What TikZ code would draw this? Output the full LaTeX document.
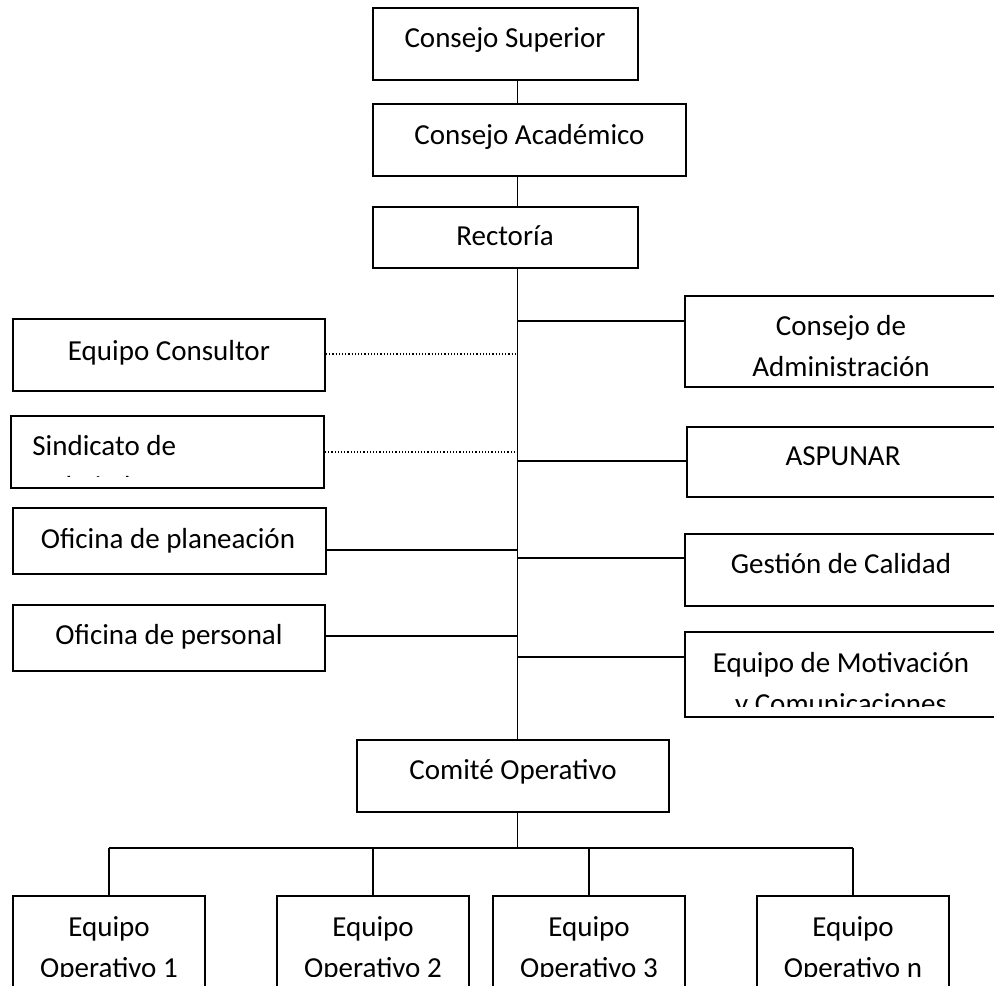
\documentclass[tikz,border=0pt]{standalone}
\usepackage{fontspec}
\setmainfont{Carlito}
\usetikzlibrary{fit}

\tikzset{
  orgbox/.style={draw,line width=0.95pt,inner sep=0pt},
  lbl/.style={anchor=base,inner sep=0pt,align=center,font=\fontsize{14.5}{20.5}\selectfont},
  link/.style={line width=0.95pt},
  dotlink/.style={line width=0.6pt,densely dotted}
}

\begin{document}
\begin{tikzpicture}[x=0.5pt,y=-0.5pt]
  \useasboundingbox (0,0) rectangle (994,985);
  \clip (0,0) rectangle (994,985);
  % central column
  \node[orgbox,fit={(373,8)(638,80)}] (sup) {};
  \node[lbl] (supT) at (505,47) {Consejo Superior};
  \node[orgbox,fit={(373,104)(686,176)}] (acad) {};
  \node[lbl] (acadT) at (529.5,144) {Consejo Académico};
  \node[orgbox,fit={(373,207)(638,268)}] (rect) {};
  \node[lbl] (rectT) at (505,245) {Rectoría};
  \node[orgbox,fit={(357,740)(669,812)}] (com) {};
  \node[lbl] (comT) at (513,779) {Comité Operativo};

  % left side
  \node[orgbox,fit={(13,319)(325,391)}] (consul) {};
  \node[lbl] (consulT) at (169,360) {Equipo Consultor};
  \node[orgbox,fit={(11,416)(324,488)}] (sind) {};
  \begin{scope}
    \clip (11,416) rectangle (324,476);
    \node[lbl,anchor=base west,align=left] (sindT) at (32,496) {Sindicato de\\trabajadores};
  \end{scope}
  \node[orgbox,fit={(13,508)(326,574)}] (plan) {};
  \node[lbl] (planT) at (168,548) {Oficina de planeación};
  \node[orgbox,fit={(13,605)(325,671)}] (pers) {};
  \node[lbl] (persT) at (169,644) {Oficina de personal};

  % right side
  \node[orgbox,fit={(685,296)(998,387)}] (cadm) {};
  \node[lbl] (cadmT) at (841,376) {Consejo de\\Administración};
  \node[orgbox,fit={(687,427)(998,497)}] (asp) {};
  \node[lbl] (aspT) at (843,465) {ASPUNAR};
  \node[orgbox,fit={(685,534)(998,606)}] (gest) {};
  \node[lbl] (gestT) at (841,573) {Gestión de Calidad};
  \node[orgbox,fit={(685,632)(998,717)}] (motiv) {};
  \begin{scope}
    \clip (685,632) rectangle (998,706);
    \node[lbl] (motivT) at (841,713) {Equipo de Motivación\\y Comunicaciones};
  \end{scope}

  % operating teams
  \foreach \n/\x in {eq1/109,eq2/373,eq3/589,eqn/853}
    \node[orgbox,fit={(\x-96,896)(\x+96,1000)}] (\n) {};
  \begin{scope}
    \clip (0,0) rectangle (994,976);
    \foreach \n/\x/\k in {eq1/109/1,eq2/373/2,eq3/589/3,eqn/853/n}
      \node[lbl] (\n T) at (\x,977) {Equipo\\Operativo \k};
  \end{scope}

  % spine and branches
  \coordinate (spine) at (517.5,0);
  \draw[link] (sup.south -| spine) -- (acad.north -| spine);
  \draw[link] (acad.south -| spine) -- (rect.north -| spine);
  \draw[link] (rect.south -| spine) -- (com.north -| spine);
  \coordinate (jA) at (517.5,321);
  \coordinate (jB) at (517.5,461);
  \coordinate (jC) at (517.5,558);
  \coordinate (jD) at (517.5,657);
  \draw[link] (jA) -- (jA -| cadm.west);
  \draw[link] (jB) -- (jB -| asp.west);
  \draw[link] (jC) -- (jC -| gest.west);
  \draw[link] (jD) -- (jD -| motiv.west);
  \coordinate (jE) at (517.5,354);
  \coordinate (jF) at (517.5,452);
  \coordinate (jG) at (517.5,550);
  \coordinate (jH) at (517.5,636);
  \draw[dotlink] (consul.east |- jE) -- (jE);
  \draw[dotlink] (sind.east |- jF) -- (jF);
  \draw[link] (plan.east |- jG) -- (jG);
  \draw[link] (pers.east |- jH) -- (jH);

  % bus to the teams
  \coordinate (bus) at (517.5,848);
  \draw[link] (com.south -| spine) -- (bus);
  \draw[link] (eq1.north |- bus) -- (eqn.north |- bus);
  \foreach \n in {eq1,eq2,eq3,eqn}
    \draw[link] (\n.north |- bus) -- (\n.north);
\end{tikzpicture}
\end{document}
